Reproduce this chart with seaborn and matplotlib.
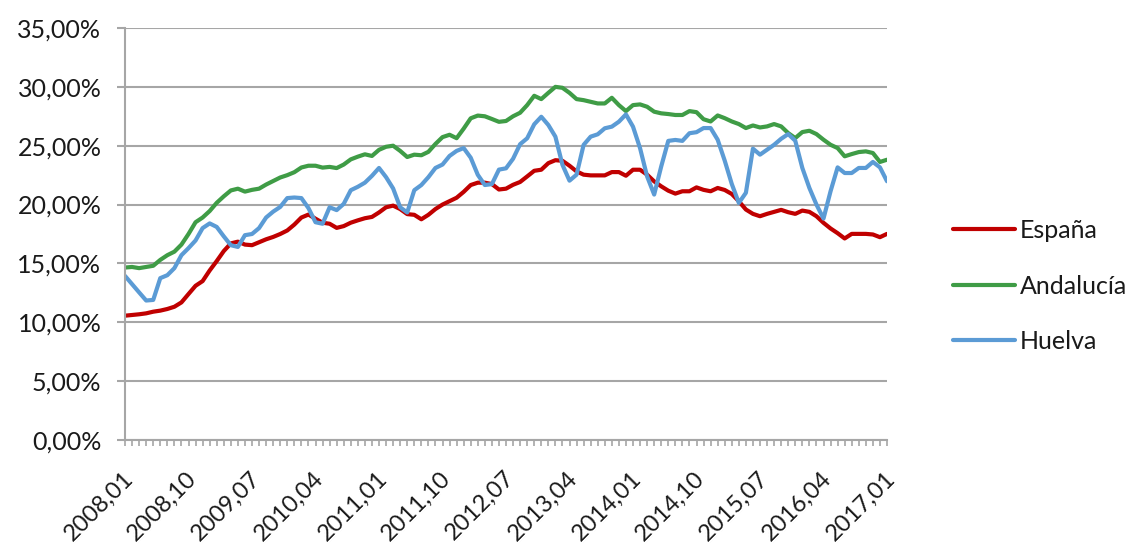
import numpy as np
import pandas as pd
import matplotlib
matplotlib.use("Agg")
import matplotlib.pyplot as plt
import matplotlib.transforms as mtransforms
from matplotlib.lines import Line2D
from matplotlib.ticker import FuncFormatter, MultipleLocator
import seaborn as sns

# ── datos: tasa mensual (%) 2008,01 – 2017,01 ────────────────────────────────
months = [f"{y},{m:02d}" for y in range(2008, 2018) for m in range(1, 13)][:109]

tick_labels = ["2008,01", "2008,10", "2009,07", "2010,04", "2011,01", "2011,10",
               "2012,07", "2013,04", "2014,01", "2014,10", "2015,07", "2016,04",
               "2017,01"]

espana = [10.56, 10.62, 10.68, 10.76, 10.90, 10.99, 11.13, 11.32, 11.69, 12.40,
          13.10, 13.50, 14.40, 15.20, 16.05, 16.70, 16.85, 16.60, 16.55, 16.80,
          17.05, 17.25, 17.50, 17.80, 18.30, 18.90, 19.15, 18.80, 18.46, 18.37,
          18.02, 18.17, 18.46, 18.66, 18.84, 18.95, 19.33, 19.77, 19.91, 19.62,
          19.19, 19.13, 18.75, 19.13, 19.62, 20.00, 20.29, 20.58, 21.08, 21.66,
          21.86, 21.86, 21.74, 21.28, 21.35, 21.68, 21.92, 22.39, 22.87, 22.96,
          23.52, 23.77, 23.72, 23.30, 22.82, 22.54, 22.48, 22.48, 22.48, 22.76,
          22.76, 22.45, 22.96, 22.96, 22.54, 21.97, 21.55, 21.18, 20.93, 21.13,
          21.13, 21.46, 21.25, 21.13, 21.41, 21.24, 20.90, 20.28, 19.58, 19.21,
          19.01, 19.21, 19.38, 19.55, 19.35, 19.21, 19.49, 19.38, 19.01, 18.45,
          17.97, 17.57, 17.12, 17.51, 17.51, 17.51, 17.46, 17.23, 17.51]

andalucia = [14.65, 14.70, 14.60, 14.70, 14.80, 15.30, 15.70, 16.00, 16.60, 17.50,
             18.50, 18.90, 19.45, 20.15, 20.70, 21.20, 21.35, 21.10, 21.25, 21.35,
             21.70, 22.00, 22.30, 22.50, 22.75, 23.15, 23.30, 23.30, 23.14, 23.20,
             23.10, 23.40, 23.84, 24.07, 24.27, 24.13, 24.65, 24.91, 25.00, 24.56,
             24.04, 24.24, 24.19, 24.48, 25.15, 25.73, 25.93, 25.64, 26.45, 27.33,
             27.56, 27.50, 27.27, 27.03, 27.10, 27.50, 27.80, 28.45, 29.24, 28.96,
             29.49, 30.00, 29.92, 29.49, 28.96, 28.87, 28.73, 28.59, 28.59, 29.07,
             28.45, 27.94, 28.45, 28.51, 28.31, 27.89, 27.75, 27.69, 27.61, 27.61,
             27.94, 27.85, 27.25, 27.06, 27.57, 27.34, 27.06, 26.84, 26.50, 26.72,
             26.55, 26.64, 26.84, 26.64, 26.07, 25.65, 26.16, 26.27, 25.99, 25.51,
             25.08, 24.80, 24.10, 24.29, 24.46, 24.52, 24.38, 23.62, 23.81]

huelva = [13.94, 13.24, 12.54, 11.85, 11.90, 13.75, 14.00, 14.60, 15.70, 16.30,
          16.95, 18.00, 18.40, 18.10, 17.30, 16.55, 16.40, 17.40, 17.50, 18.00,
          18.90, 19.40, 19.80, 20.55, 20.60, 20.55, 19.70, 18.50, 18.37, 19.77,
          19.53, 20.06, 21.22, 21.51, 21.86, 22.44, 23.11, 22.33, 21.37, 19.77,
          19.33, 21.22, 21.66, 22.33, 23.11, 23.40, 24.13, 24.56, 24.80, 23.98,
          22.53, 21.66, 21.74, 22.97, 23.08, 23.89, 25.13, 25.63, 26.82, 27.46,
          26.76, 25.77, 23.38, 22.03, 22.54, 25.07, 25.77, 25.97, 26.48, 26.62,
          27.04, 27.66, 26.62, 24.79, 22.39, 20.85, 23.24, 25.41, 25.49, 25.41,
          26.06, 26.15, 26.50, 26.50, 25.51, 23.73, 21.75, 20.14, 21.00, 24.75,
          24.24, 24.66, 25.08, 25.59, 25.99, 25.42, 23.11, 21.41, 20.00, 18.81,
          21.13, 23.16, 22.68, 22.68, 23.11, 23.11, 23.62, 23.16, 21.98]

series_names = ["España", "Andalucía", "Huelva"]
palette = {"España": "#C00000", "Andalucía": "#3F9C46", "Huelva": "#5B9BD5"}

frames = []
for name, vals in zip(series_names, [espana, andalucia, huelva]):
    frames.append(pd.DataFrame({"idx": np.arange(len(months)), "mes": months,
                                "valor": vals, "serie": name}))
df = pd.concat(frames, ignore_index=True)

# ── estilo ───────────────────────────────────────────────────────────────────
sns.set_style("white")
plt.rcParams["font.family"] = ["Lato", "DejaVu Sans"]
GRID = "#A6A6A6"
TEXT = "#1a1a1a"
FS = 18

fig = plt.figure(figsize=(11.43, 5.47), dpi=100)
ax = fig.add_axes([125 / 1143, 107 / 547, (887 - 125) / 1143, (440 - 28) / 547])

sns.lineplot(data=df, x="idx", y="valor", hue="serie", hue_order=series_names,
             palette=palette, linewidth=3.0, ax=ax, legend=False)

ax.set_xlim(0, len(months) - 1)
ax.set_ylim(0, 35)
ax.yaxis.set_major_locator(MultipleLocator(5))
ax.yaxis.set_major_formatter(FuncFormatter(lambda v, p: f"{v:.2f}%".replace(".", ",")))
ax.grid(axis="y", color=GRID, linewidth=1.5)
ax.set_axisbelow(True)

major_pos = [months.index(t) for t in tick_labels]
ax.set_xticks(major_pos)
ax.set_xticklabels(tick_labels)
ax.set_xticks(np.arange(len(months)), minor=True)

ax.tick_params(axis="y", length=6, width=1.5, color=GRID, pad=11,
               labelsize=FS, labelcolor=TEXT, left=True)
ax.tick_params(axis="x", which="both", length=4, width=1.2, color=GRID,
               direction="out", bottom=True)
ax.tick_params(axis="x", which="major", pad=21, labelsize=17, labelcolor=TEXT)

# etiquetas del eje x en diagonal, un poco a la derecha de cada marca
shift = mtransforms.ScaledTranslation(5 / 100, 0, fig.dpi_scale_trans)
for lab in ax.get_xticklabels():
    lab.set_rotation(45)
    lab.set_ha("right")
    lab.set_va("center")
    lab.set_rotation_mode("anchor")
    lab.set_transform(lab.get_transform() + shift)

ax.set_xlabel("")
ax.set_ylabel("")
for s in ["top", "right"]:
    ax.spines[s].set_visible(False)
for s in ["left", "bottom"]:
    ax.spines[s].set_color(GRID)
    ax.spines[s].set_linewidth(1.5)

handles = [Line2D([0], [0], color=palette[n], linewidth=3.0) for n in series_names]
fig.legend(handles, series_names, loc="center left",
           bbox_to_anchor=(930 / 1143, 1 - 286 / 547), frameon=False,
           fontsize=FS, labelcolor=TEXT, handlelength=2.5, handletextpad=0.2,
           labelspacing=1.3)

fig.savefig("out.png", dpi=100)
